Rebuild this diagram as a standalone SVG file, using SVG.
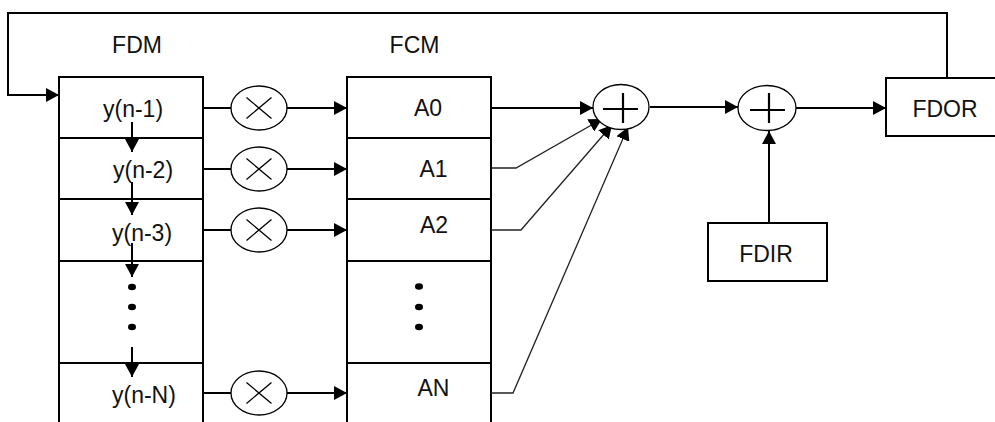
<svg xmlns="http://www.w3.org/2000/svg" width="995" height="422" viewBox="0 0 995 422">
<style>
text{font-family:"Liberation Sans",Arial,sans-serif;font-size:23px;fill:#111}
.box{fill:none;stroke:#000;stroke-width:2}
.ln{fill:none;stroke:#000;stroke-width:2}
.thin{fill:none;stroke:#222;stroke-width:1.3}
.circ{fill:#fff;stroke:#000;stroke-width:1.3}
.x{stroke:#000;stroke-width:1.3}
.plus{stroke:#000;stroke-width:2.2}
.dot{fill:#000}
</style>
<defs>
<marker id="ah" markerUnits="userSpaceOnUse" markerWidth="14" markerHeight="14" refX="13" refY="7" orient="auto">
<path d="M0,0 L13,7 L0,14 z" fill="#000"/>
</marker>
</defs>
<rect width="995" height="422" fill="#fff"/>
<text x="137" y="53" text-anchor="middle">FDM</text>
<text x="414.5" y="53" text-anchor="middle">FCM</text>
<g id="fdm">
<rect class="box" x="59" y="77" width="144" height="360"/>
<line class="box" x1="59" y1="138" x2="203" y2="138"/>
<line class="box" x1="59" y1="199" x2="203" y2="199"/>
<line class="box" x1="59" y1="261" x2="203" y2="261"/>
<line class="box" x1="59" y1="363" x2="203" y2="363"/>
<text x="103" y="116.5">y(n-1)</text>
<text x="113" y="178">y(n-2)</text>
<text x="112" y="241">y(n-3)</text>
<text x="112" y="403">y(n-N)</text>
<ellipse class="dot" cx="132" cy="287" rx="4" ry="3.3"/>
<ellipse class="dot" cx="132" cy="307" rx="4" ry="3.3"/>
<ellipse class="dot" cx="132" cy="327" rx="4" ry="3.3"/>
</g>
<g id="fcm">
<rect class="box" x="347" y="77" width="144" height="360"/>
<line class="box" x1="347" y1="138" x2="491" y2="138"/>
<line class="box" x1="347" y1="199" x2="491" y2="199"/>
<line class="box" x1="347" y1="261" x2="491" y2="261"/>
<line class="box" x1="347" y1="363" x2="491" y2="363"/>
<text x="428" y="116" text-anchor="middle">A0</text>
<text x="433.5" y="177" text-anchor="middle">A1</text>
<text x="434" y="233" text-anchor="middle">A2</text>
<text x="433.5" y="396" text-anchor="middle">AN</text>
<ellipse class="dot" cx="419" cy="286.5" rx="4" ry="3.3"/>
<ellipse class="dot" cx="419" cy="307" rx="4" ry="3.3"/>
<ellipse class="dot" cx="419" cy="327" rx="4" ry="3.3"/>
</g>
<g id="fdor">
<rect class="box" x="886" y="78" width="112" height="58"/>
<text x="945" y="117" text-anchor="middle">FDOR</text>
</g>
<g id="fdir">
<rect class="box" x="708" y="223" width="119" height="58"/>
<text x="766" y="262" text-anchor="middle">FDIR</text>
</g>
<g id="connectors">
<polyline class="ln" points="947,78 947,13 8,13 8,95 59,95" marker-end="url(#ah)"/>
<line class="ln" x1="132" y1="122" x2="132" y2="152" marker-end="url(#ah)"/>
<line class="ln" x1="132" y1="182" x2="132" y2="215" marker-end="url(#ah)"/>
<line class="ln" x1="132" y1="243" x2="132" y2="277" marker-end="url(#ah)"/>
<line class="ln" x1="132" y1="347" x2="132" y2="377" marker-end="url(#ah)"/>
<line class="ln" x1="203" y1="108" x2="347" y2="108" marker-end="url(#ah)"/>
<line class="ln" x1="203" y1="169" x2="347" y2="169" marker-end="url(#ah)"/>
<line class="ln" x1="203" y1="230" x2="347" y2="230" marker-end="url(#ah)"/>
<line class="ln" x1="203" y1="393" x2="347" y2="393" marker-end="url(#ah)"/>
<line class="ln" x1="491" y1="108" x2="593" y2="108" marker-end="url(#ah)"/>
<polyline class="thin" points="491,168 516,168 602,119" marker-end="url(#ah)"/>
<polyline class="thin" points="491,230 521,230 612,125" marker-end="url(#ah)"/>
<polyline class="thin" points="491,393 513,393 628,127" marker-end="url(#ah)"/>
<line class="ln" x1="650" y1="107" x2="738" y2="107" marker-end="url(#ah)"/>
<line class="ln" x1="796" y1="108" x2="886" y2="108" marker-end="url(#ah)"/>
<line class="ln" x1="769" y1="223" x2="769" y2="131" marker-end="url(#ah)"/>
</g>
<g id="mul1"><ellipse class="circ" cx="259" cy="108" rx="28" ry="22"/><path class="x" d="M246.5,97.5 L271.5,118.5 M271.5,97.5 L246.5,118.5"/></g>
<g id="mul2"><ellipse class="circ" cx="259" cy="169" rx="28" ry="22"/><path class="x" d="M246.5,158.5 L271.5,179.5 M271.5,158.5 L246.5,179.5"/></g>
<g id="mul3"><ellipse class="circ" cx="259" cy="230" rx="28" ry="22"/><path class="x" d="M246.5,219.5 L271.5,240.5 M271.5,219.5 L246.5,240.5"/></g>
<g id="mulN"><ellipse class="circ" cx="259" cy="393" rx="28" ry="22"/><path class="x" d="M246.5,382.5 L271.5,403.5 M271.5,382.5 L246.5,403.5"/></g>
<g id="sum1"><ellipse class="circ" cx="621" cy="107" rx="28" ry="22.5"/><path class="plus" d="M603,109 L638,109 M623,93 L623,123"/></g>
<g id="sum2"><ellipse class="circ" cx="767" cy="108" rx="29" ry="22.5"/><path class="plus" d="M750,110 L785,110 M769,93 L769,123"/></g>
</svg>
